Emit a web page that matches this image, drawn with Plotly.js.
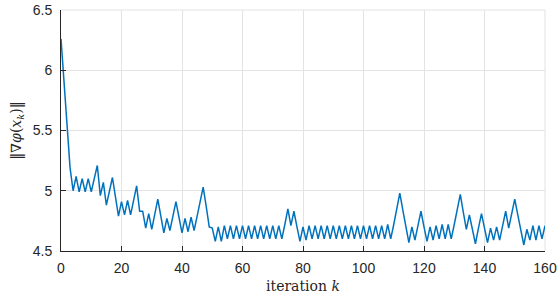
<!DOCTYPE html>
<html>
<head>
<meta charset="utf-8">
<script src="https://cdn.plot.ly/plotly-3.0.1.min.js"></script>
<style>html,body{margin:0;padding:0;background:#fff;}#chart{width:558px;height:304px;}</style>
</head>
<body>
<div id="chart"></div>
<script>
// iteration index k = 0..160
const gradNorm = [
  6.26, 5.88, 5.50, 5.19, 5.00, 5.12, 4.99, 5.10, 4.99, 5.10,
  4.99, 5.10, 5.21, 4.96, 5.07, 4.88, 4.99, 5.11, 4.95, 4.79,
  4.91, 4.80, 4.92, 4.80, 4.92, 5.04, 4.83, 4.83, 4.69, 4.81,
  4.68, 4.80, 4.93, 4.79, 4.65, 4.77, 4.67, 4.79, 4.91, 4.78,
  4.65, 4.77, 4.66, 4.78, 4.67, 4.79, 4.91, 5.03, 4.87, 4.70,
  4.69, 4.58, 4.70, 4.58, 4.71, 4.60, 4.71, 4.60, 4.71, 4.60,
  4.71, 4.60, 4.71, 4.60, 4.71, 4.60, 4.71, 4.60, 4.71, 4.60,
  4.71, 4.60, 4.71, 4.60, 4.72, 4.85, 4.71, 4.83, 4.70, 4.58,
  4.70, 4.59, 4.71, 4.60, 4.71, 4.60, 4.71, 4.60, 4.71, 4.60,
  4.71, 4.60, 4.71, 4.60, 4.71, 4.60, 4.71, 4.60, 4.71, 4.60,
  4.71, 4.60, 4.71, 4.60, 4.71, 4.60, 4.71, 4.60, 4.72, 4.60,
  4.72, 4.85, 4.98, 4.84, 4.70, 4.57, 4.70, 4.59, 4.71, 4.83,
  4.70, 4.58, 4.70, 4.59, 4.71, 4.60, 4.72, 4.60, 4.72, 4.60,
  4.72, 4.85, 4.97, 4.82, 4.68, 4.80, 4.68, 4.56, 4.69, 4.81,
  4.69, 4.57, 4.69, 4.59, 4.70, 4.59, 4.71, 4.83, 4.69, 4.81,
  4.93, 4.80, 4.67, 4.55, 4.68, 4.59, 4.71, 4.59, 4.71, 4.60,
  4.71
];
const iterations = gradNorm.map((_, i) => i);
const xTicks = [0, 20, 40, 60, 80, 100, 120, 140, 160];
const yTicks = [4.5, 5, 5.5, 6, 6.5];

const axisColor = '#262626';
const gridColor = '#e3e3e3';
const tickFont = {family: 'Liberation Sans, Arial, sans-serif', size: 14, color: axisColor};
const titleFont = {family: 'DejaVu Serif', size: 14, color: axisColor};

const trace = {
  x: iterations,
  y: gradNorm,
  type: 'scatter',
  mode: 'lines',
  line: {color: '#0072BD', width: 1.5},
  hoverinfo: 'skip'
};

const layout = {
  width: 558,
  height: 304,
  margin: {l: 61, r: 13, t: 10, b: 53},
  paper_bgcolor: '#ffffff',
  plot_bgcolor: '#ffffff',
  showlegend: false,
  font: tickFont,
  xaxis: {
    range: [0, 160],
    tickvals: xTicks,
    ticktext: xTicks.map(String),
    ticks: 'inside',
    ticklen: 5,
    tickwidth: 1,
    tickcolor: axisColor,
    ticklabelstandoff: 4,
    showline: true,
    linecolor: axisColor,
    linewidth: 1,
    showgrid: true,
    gridcolor: gridColor,
    gridwidth: 1,
    zeroline: false,
    tickfont: tickFont,
    title: {
      text: 'iteration <i>k</i>',
      font: titleFont,
      standoff: 6
    }
  },
  yaxis: {
    range: [4.5, 6.5],
    tickvals: yTicks,
    ticktext: yTicks.map(String),
    ticks: 'inside',
    ticklen: 5,
    tickwidth: 1,
    tickcolor: axisColor,
    ticklabelstandoff: 5,
    showline: true,
    linecolor: axisColor,
    linewidth: 1,
    showgrid: true,
    gridcolor: gridColor,
    gridwidth: 1,
    zeroline: false,
    tickfont: tickFont,
    title: {
      text: '‖∇<i>φ</i>(<i>x</i><sub><i>k</i></sub>)‖',
      font: titleFont,
      standoff: 7
    }
  },
  shapes: [
    {type: 'line', xref: 'paper', yref: 'paper', x0: 0, x1: 1, y0: 1, y1: 1, line: {color: gridColor, width: 1}, layer: 'below'},
    {type: 'line', xref: 'paper', yref: 'paper', x0: 1, x1: 1, y0: 0, y1: 1, line: {color: gridColor, width: 1}, layer: 'below'}
  ]
};

Plotly.newPlot('chart', [trace], layout, {displayModeBar: false, staticPlot: true});
</script>
</body>
</html>
